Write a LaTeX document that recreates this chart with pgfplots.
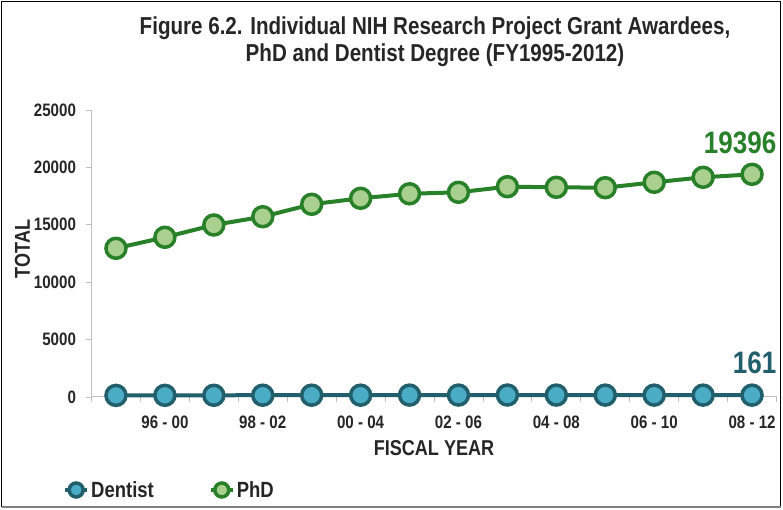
\documentclass[border=0pt]{standalone}
\usepackage{pgfplots}
\pgfplotsset{compat=1.18}
\usepackage{fontspec}
\setmainfont[FakeStretch=0.84]{Liberation Sans}
\definecolor{phdline}{RGB}{40,128,40}
\definecolor{phdfill}{RGB}{169,208,142}
\definecolor{dentline}{RGB}{33,95,108}
\definecolor{dentfill}{RGB}{75,172,198}
\definecolor{txt}{RGB}{38,38,38}
\definecolor{axgray}{RGB}{191,191,191}
\begin{document}
\begin{tikzpicture}[x=1pt,y=1pt]
\useasboundingbox (0,0) rectangle (783,510);
\draw[line width=1.5pt, black] (1.5,3) -- (1.5,508.5) -- (780.5,508.5) -- (780.5,3);
\draw[line width=1.5pt, gray] (1.5,3) -- (780.5,3);
\node[font=\bfseries\fontsize{24.5}{27}\selectfont, text=txt, align=center] at (435,468.5) {Figure 6.2. Individual NIH Research Project Grant Awardees,\\PhD and Dentist Degree (FY1995-2012)};
\begin{axis}[
 at={(91.5pt,113pt)}, anchor=south west, scale only axis, width=685pt, height=287pt,
 xmin=-0.5, xmax=13.5, ymin=0, ymax=25000,
 clip=false,
 axis x line=bottom, axis y line=left, axis line style={-, draw=axgray, line width=1pt},
 xtick={1,3,5,7,9,11,13},
 xticklabels={96 - 00, 98 - 02, 00 - 04, 02 - 06, 04 - 08, 06 - 10, 08 - 12},
 minor xtick={-0.5,0.5,...,13.5},
 major x tick style={draw=none},
 minor x tick style={draw=axgray, line width=0.8pt},
 minor tick length=5pt,
 ytick={0,5000,...,25000},
 y tick style={draw=axgray, line width=0.8pt},
 major tick length=6pt,
 tick align=outside,
 scaled y ticks=false,
 /pgf/number format/1000 sep={},
 /pgf/number format/assume math mode=true,
 every tick label/.append style={font=\bfseries\fontsize{18}{18}\selectfont, text=txt},
 yticklabel style={xshift=-6pt},
 xticklabel style={yshift=-9pt},
 xlabel={FISCAL YEAR}, ylabel={TOTAL},
 every axis label/.append style={font=\bfseries\fontsize{21.5}{21.5}\selectfont, text=txt},
 xlabel style={yshift=-5pt},
 ylabel style={yshift=-3pt, xshift=4.5pt},
 legend columns=2,
 legend style={at={(-0.046,-0.324)}, anchor=west, draw=none, fill=none,
   font=\bfseries\fontsize{22}{22}\selectfont, text=txt,
   /tikz/every even column/.append style={column sep=53pt}},
 legend image code/.code={\draw[mark repeat=2,mark phase=2,mark size=7pt] plot coordinates {(0pt,0pt) (11pt,0pt) (22pt,0pt)};},
]
\addplot[dentline, line width=4pt, mark=*, mark size=10pt, mark options={fill=dentfill, draw=dentline, line width=3.5pt}] coordinates {
(0,140) (1,145) (2,150) (3,155) (4,158) (5,160) (6,165) (7,170) (8,172) (9,168) (10,165) (11,163) (12,162) (13,161)};
\addlegendentry{Dentist}
\addplot[phdline, line width=4pt, mark=*, mark size=10pt, mark options={fill=phdfill, draw=phdline, line width=3.5pt}] coordinates {
(0,12953) (1,13911) (2,14983) (3,15706) (4,16786) (5,17309) (6,17701) (7,17831) (8,18319) (9,18267) (10,18230) (11,18703) (12,19138) (13,19396)};
\addlegendentry{PhD}
\node[anchor=base east, inner sep=0pt, text=phdline, font=\bfseries\fontsize{31}{31}\selectfont, yshift=21pt] at (axis cs:13.5,19396) {19396};
\node[anchor=base east, inner sep=0pt, text=dentline, font=\bfseries\fontsize{31}{31}\selectfont, yshift=22pt] at (axis cs:13.5,161) {161};
\end{axis}
\end{tikzpicture}
\end{document}
